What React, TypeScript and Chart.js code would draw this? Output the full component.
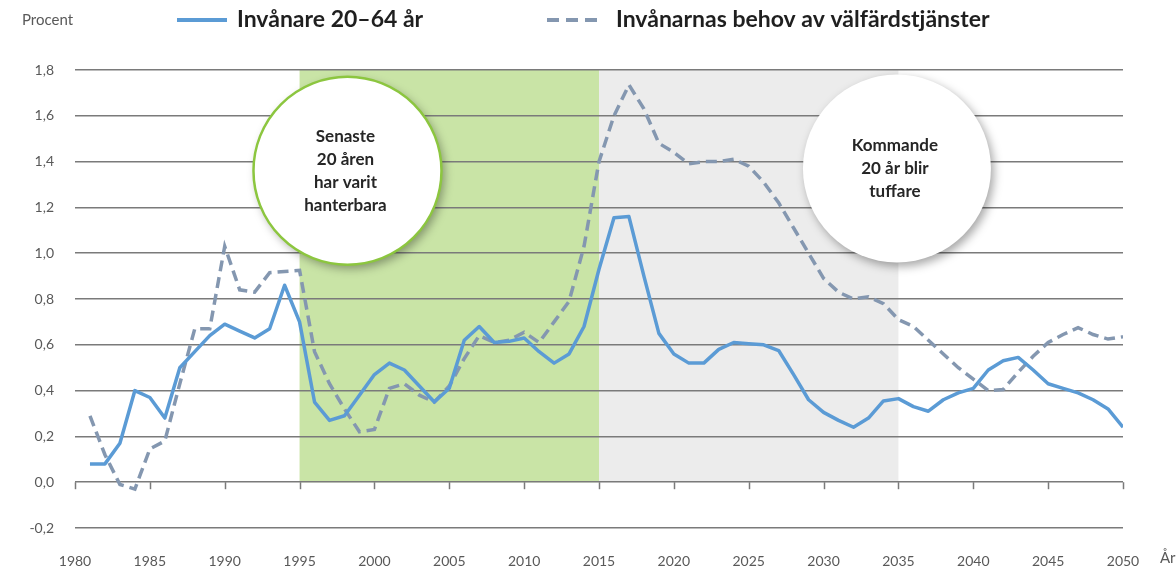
import React, { useEffect, useRef } from 'react';
import { Chart, registerables } from 'chart.js';

Chart.register(...registerables);

const years = [
  1981, 1982, 1983, 1984, 1985, 1986, 1987, 1988, 1989, 1990,
  1991, 1992, 1993, 1994, 1995, 1996, 1997, 1998, 1999, 2000,
  2001, 2002, 2003, 2004, 2005, 2006, 2007, 2008, 2009, 2010,
  2011, 2012, 2013, 2014, 2015, 2016, 2017, 2018, 2019, 2020,
  2021, 2022, 2023, 2024, 2025, 2026, 2027, 2028, 2029, 2030,
  2031, 2032, 2033, 2034, 2035, 2036, 2037, 2038, 2039, 2040,
  2041, 2042, 2043, 2044, 2045, 2046, 2047, 2048, 2049, 2050,
];

const workingAge = [
  0.08, 0.08, 0.17, 0.40, 0.37, 0.28, 0.50, 0.57, 0.64, 0.69,
  0.66, 0.63, 0.67, 0.86, 0.70, 0.35, 0.27, 0.29, 0.38, 0.47,
  0.52, 0.49, 0.42, 0.35, 0.41, 0.62, 0.68, 0.61, 0.615, 0.63,
  0.57, 0.52, 0.56, 0.68, 0.93, 1.155, 1.16, 0.90, 0.65, 0.56,
  0.52, 0.52, 0.58, 0.61, 0.605, 0.60, 0.575, 0.47, 0.36, 0.305,
  0.27, 0.24, 0.28, 0.355, 0.365, 0.33, 0.31, 0.36, 0.39, 0.41,
  0.49, 0.53, 0.545, 0.49, 0.43, 0.41, 0.39, 0.36, 0.32, 0.24,
];

const welfareNeeds = [
  0.29, 0.12, -0.01, -0.03, 0.145, 0.18, 0.43, 0.67, 0.67, 1.03,
  0.84, 0.83, 0.915, 0.92, 0.925, 0.57, 0.43, 0.32, 0.22, 0.23,
  0.41, 0.43, 0.38, 0.35, 0.42, 0.54, 0.64, 0.61, 0.62, 0.655,
  0.61, 0.70, 0.79, 1.03, 1.40, 1.60, 1.735, 1.63, 1.48, 1.44,
  1.39, 1.40, 1.40, 1.41, 1.38, 1.31, 1.22, 1.11, 1.00, 0.89,
  0.83, 0.80, 0.81, 0.78, 0.71, 0.68, 0.62, 0.56, 0.50, 0.45,
  0.40, 0.405, 0.48, 0.55, 0.61, 0.645, 0.675, 0.645, 0.625, 0.635,
];

const xTickYears = [1980, 1985, 1990, 1995, 2000, 2005, 2010, 2015, 2020, 2025, 2030, 2035, 2040, 2045, 2050];

const seriesLabels = ['Invånare 20–64 år', 'Invånarnas behov av välfärdstjänster'];
const yAxisTitle = 'Procent';
const xAxisTitle = 'År';

const periodFrom = [1995, 2015];
const periodTo = [2015, 2035];
const periodColors = ['#c9e4a6', '#ececec'];

const leftNote = ['Senaste', '20 åren', 'har varit', 'hanterbara'];
const rightNote = ['Kommande', '20 år blir', 'tuffare'];
const noteCenterYear = [1998.2, 2034.9];
const noteCenterValue = [1.36, 1.37];

const FONT = 'Lato, "Open Sans", sans-serif';
const BLUE = '#5b9bd5';
const SLATE = '#8497b0';
const GRID = '#7a7a7a';
const LABEL = '#595959';

const decor = {
  id: 'decor',
  beforeDraw(chart: any) {
    const { ctx } = chart;
    const x = chart.scales.x;
    const y = chart.scales.y;
    ctx.save();
    ctx.fillStyle = '#ffffff';
    ctx.fillRect(0, 0, chart.width, chart.height);
    const top = y.getPixelForValue(1.8);
    const bottom = y.getPixelForValue(0);
    for (let i = 0; i < periodFrom.length; i++) {
      const x0 = x.getPixelForValue(periodFrom[i]);
      const x1 = x.getPixelForValue(periodTo[i]);
      ctx.fillStyle = periodColors[i];
      ctx.fillRect(x0, top, x1 - x0, bottom - top);
    }
    ctx.restore();
  },
  beforeDatasetsDraw(chart: any) {
    const { ctx } = chart;
    const x = chart.scales.x;
    const y = chart.scales.y;
    const y0 = y.getPixelForValue(0);
    ctx.save();
    ctx.strokeStyle = GRID;
    ctx.lineWidth = 1.5;
    for (const yr of xTickYears) {
      const px = Math.round(x.getPixelForValue(yr)) + 0.5;
      ctx.beginPath();
      ctx.moveTo(px, y0);
      ctx.lineTo(px, y0 + 7);
      ctx.stroke();
    }
    const notes = [leftNote, rightNote];
    const borders = ['#8cc63f', null];
    const R = 94;
    for (let i = 0; i < notes.length; i++) {
      const cx = x.getPixelForValue(noteCenterYear[i]);
      const cy = y.getPixelForValue(noteCenterValue[i]);
      ctx.save();
      ctx.shadowColor = 'rgba(0,0,0,0.35)';
      ctx.shadowBlur = 10;
      ctx.shadowOffsetX = 3;
      ctx.shadowOffsetY = 4;
      ctx.beginPath();
      ctx.arc(cx, cy, R, 0, Math.PI * 2);
      ctx.fillStyle = '#ffffff';
      ctx.fill();
      ctx.restore();
      if (borders[i]) {
        ctx.beginPath();
        ctx.arc(cx, cy, R, 0, Math.PI * 2);
        ctx.strokeStyle = borders[i] as string;
        ctx.lineWidth = 2.5;
        ctx.stroke();
      }
      const lines = notes[i];
      const lh = 23;
      ctx.fillStyle = '#262626';
      ctx.font = `bold 17px ${FONT}`;
      ctx.textAlign = 'center';
      ctx.textBaseline = 'middle';
      const startY = cy - ((lines.length - 1) * lh) / 2;
      lines.forEach((t, k) => ctx.fillText(t, cx - 2, startY + k * lh));
    }
    ctx.restore();
  },
  afterDraw(chart: any) {
    const { ctx } = chart;
    ctx.save();
    ctx.textBaseline = 'middle';
    ctx.textAlign = 'left';
    ctx.fillStyle = LABEL;
    ctx.font = `15px ${FONT}`;
    ctx.fillText(yAxisTitle, 22, 20);
    ctx.fillText(xAxisTitle, 1160, 558);

    ctx.lineWidth = 4;
    ctx.strokeStyle = BLUE;
    ctx.beginPath();
    ctx.moveTo(177, 20);
    ctx.lineTo(227, 20);
    ctx.stroke();
    ctx.strokeStyle = SLATE;
    ctx.setLineDash([12, 7]);
    ctx.beginPath();
    ctx.moveTo(547, 20);
    ctx.lineTo(597, 20);
    ctx.stroke();
    ctx.setLineDash([]);
    ctx.fillStyle = '#1f1f1f';
    ctx.font = `bold 23px ${FONT}`;
    ctx.fillText(seriesLabels[0], 237, 20);
    ctx.fillText(seriesLabels[1], 616, 20);
    ctx.restore();
  },
};

export default function App() {
  const ref = useRef<HTMLCanvasElement>(null);
  useEffect(() => {
    document.body.style.margin = '0';
    const chart = new Chart(ref.current as HTMLCanvasElement, {
      type: 'line',
      data: {
        datasets: [
          {
            label: seriesLabels[0],
            data: years.map((yr, i) => ({ x: yr, y: workingAge[i] })),
            borderColor: BLUE,
            backgroundColor: BLUE,
            borderWidth: 3.5,
            pointRadius: 0,
            tension: 0,
            fill: false,
            borderJoinStyle: 'round',
          },
          {
            label: seriesLabels[1],
            data: years.map((yr, i) => ({ x: yr, y: welfareNeeds[i] })),
            borderColor: SLATE,
            backgroundColor: SLATE,
            borderWidth: 3.5,
            borderDash: [11, 6],
            pointRadius: 0,
            tension: 0,
            fill: false,
          },
        ],
      },
      options: {
        responsive: false,
        animation: false,
        events: [],
        layout: { padding: { left: 0, right: 53, top: 70, bottom: 0 } },
        plugins: { legend: { display: false }, tooltip: { enabled: false } },
        scales: {
          x: {
            type: 'linear',
            min: 1980,
            max: 2050,
            grid: { display: false },
            border: { display: false },
            ticks: {
              stepSize: 5,
              padding: 17,
              color: LABEL,
              maxRotation: 0,
              autoSkip: false,
              font: { family: FONT, size: 14 },
              callback: (v: any) => String(v),
            },
            afterFit: (s: any) => {
              s.height = 40;
            },
          },
          y: {
            min: -0.2,
            max: 1.8,
            grid: { color: GRID, lineWidth: 1.5, drawTicks: false },
            border: { display: false },
            ticks: {
              stepSize: 0.2,
              padding: 21,
              color: LABEL,
              font: { family: FONT, size: 14 },
              callback: (v: any) => Number(v).toFixed(1).replace('.', ','),
            },
            afterFit: (s: any) => {
              s.width = 75;
            },
          },
        },
      },
      plugins: [decor],
    } as any);
    return () => chart.destroy();
  }, []);
  return (
    <div style={{ width: 1176, height: 568 }}>
      <canvas ref={ref} width={1176} height={568} style={{ display: 'block' }} />
    </div>
  );
}
